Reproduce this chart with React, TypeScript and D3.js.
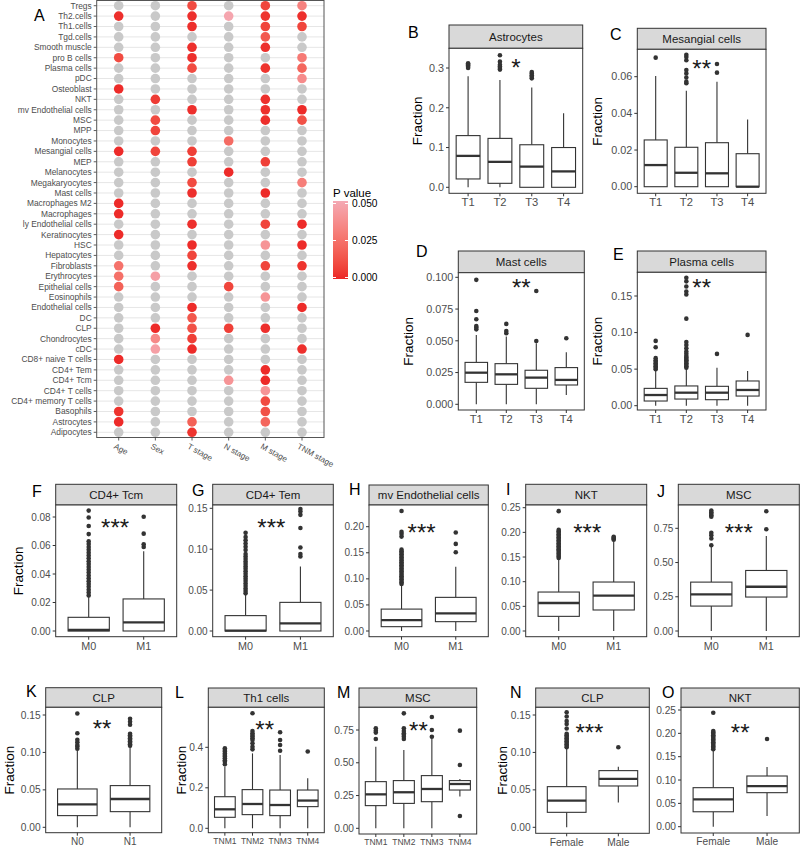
import React from "react";
import * as d3 from "d3";

const FONT = "'Liberation Sans', Arial, Helvetica, sans-serif";
const INK = "#333333";
const AXIS_TEXT = "#4d4d4d";
const _ = null;

// ---------- Panel A data ----------
const cellTypes = [
  "Tregs", "Th2.cells", "Th1.cells", "Tgd.cells", "Smooth muscle", "pro B cells", "Plasma cells", "pDC",
  "Osteoblast", "NKT", "mv Endothelial cells", "MSC", "MPP", "Monocytes", "Mesangial cells", "MEP",
  "Melanocytes", "Megakaryocytes", "Mast cells", "Macrophages M2", "Macrophages", "ly Endothelial cells",
  "Keratinocytes", "HSC", "Hepatocytes", "Fibroblasts", "Erythrocytes", "Epithelial cells", "Eosinophils",
  "Endothelial cells", "DC", "CLP", "Chondrocytes", "cDC", "CD8+ naive T cells", "CD4+ Tem", "CD4+ Tcm",
  "CD4+ T cells", "CD4+ memory T cells", "Basophils", "Astrocytes", "Adipocytes",
];
const clinicalVars = ["Age", "Sex", "T stage", "N stage", "M stage", "TNM stage"];
const pAge = [_, 0.002, _, _, _, 0.01, _, _, 0.001, _, _, _, _, _, 0.001, _, _, _, _, 0.001, 0.001, _, 0.001, _, _, 0.025, 0.024, 0.018, _, _, _, _, _, _, 0.001, _, _, _, _, 0.003, 0.001, _];
const pSex = [_, _, _, _, _, _, _, _, _, 0.005, _, 0.01, 0.008, _, 0.008, _, _, _, _, _, _, _, _, _, _, _, 0.045, _, _, _, _, 0.001, 0.035, 0.045, _, _, _, _, _, _, _, _];
const pT = [0.01, 0.002, 0.002, _, 0.002, 0.002, 0.01, _, _, _, 0.002, _, _, _, 0.006, 0.006, _, 0.01, 0.002, _, _, 0.002, _, 0.001, 0.008, 0.002, _, _, _, 0.001, 0.014, 0.012, 0.006, 0.001, _, _, _, _, _, _, 0.018, 0.003];
const pN = [_, 0.048, _, _, _, _, _, _, _, _, _, _, _, 0.022, _, _, 0.001, _, _, _, _, _, _, _, _, _, _, 0.008, _, _, _, 0.006, _, _, _, _, 0.04, _, _, _, _, _];
const pM = [0.008, 0.003, 0.008, 0.015, 0.002, _, 0.003, _, _, 0.002, 0.002, 0.002, _, _, _, 0.006, _, _, 0.001, _, _, 0.008, _, 0.04, _, 0.008, _, _, 0.04, _, _, 0.002, _, _, _, 0.001, 0.001, 0.04, 0.01, 0.012, 0.02, _];
const pTNM = [0.032, 0.002, 0.008, _, _, 0.028, 0.02, 0.036, _, _, 0.001, 0.012, _, _, _, _, _, 0.03, _, _, _, 0.001, _, 0.001, _, 0.003, _, _, _, 0.001, _, _, _, 0.002, _, _, _, _, _, _, _, _];
const pColumns = [pAge, pSex, pT, pN, pM, pTNM];
const legendTicks = [0, 0.025, 0.05];

// ---------- Boxplot data: [lower whisker, Q1, median, Q3, upper whisker] ----------
const tCats = ["T1", "T2", "T3", "T4"];
const mCats = ["M0", "M1"];
const nCats = ["N0", "N1"];
const tnmCats = ["TNM1", "TNM2", "TNM3", "TNM4"];
const sexCats = ["Female", "Male"];

const astroStats = [[0, 0.021, 0.079, 0.13, 0.279], [0, 0.01, 0.064, 0.123, 0.27], [0, 0, 0.052, 0.107, 0.251], [0, 0, 0.04, 0.1, 0.186]];
const astroOut = [[0.3, 0.303, 0.306, 0.309, 0.312], [0.296, 0.3, 0.304, 0.308, 0.316, 0.332], [0.274, 0.278, 0.282, 0.286, 0.29], []];
const astroTicks = [0, 0.1, 0.2, 0.3];
const astroSig = { x: 2.5, y: 0.315, label: "*" };

const mesStats = [[0, 0, 0.0118, 0.0255, 0.0604], [0, 0, 0.0076, 0.0215, 0.0524], [0, 0, 0.0073, 0.024, 0.0573], [0, 0, 0, 0.018, 0.0367]];
const mesOut = [[0.0704], [0.0564, 0.0573, 0.0596, 0.0618, 0.0636, 0.069, 0.0708, 0.072], [0.0622, 0.0669], []];
const mesTicks = [0, 0.02, 0.04, 0.06];
const mesSig = { x: 2.5, y: 0.0675, label: "**" };

const mastStats = [[0, 0.0173, 0.0249, 0.033, 0.0546], [0, 0.0157, 0.0236, 0.032, 0.0533], [0, 0.0126, 0.021, 0.0268, 0.048], [0.0073, 0.0152, 0.0192, 0.0289, 0.041]];
const mastOut = [[0.059, 0.0605, 0.0617, 0.067, 0.0735, 0.098], [0.056, 0.0577, 0.0633], [0.0499, 0.0892], [0.052]];
const mastTicks = [0, 0.025, 0.05, 0.075, 0.1];
const mastSig = { x: 2.5, y: 0.0963, label: "**" };

const plasmaStats = [[0, 0.0064, 0.0146, 0.0237, 0.0475], [0, 0.0091, 0.0178, 0.027, 0.052], [0, 0.0082, 0.0178, 0.0265, 0.052], [0, 0.0132, 0.0215, 0.0338, 0.0475]];
const plasmaOut = [
  [0.05, 0.052, 0.054, 0.056, 0.058, 0.06, 0.062, 0.065, 0.08, 0.0886],
  [0.052, 0.054, 0.056, 0.058, 0.06, 0.062, 0.064, 0.066, 0.068, 0.071, 0.074, 0.0785, 0.083, 0.087, 0.119, 0.152, 0.156, 0.163, 0.17, 0.175],
  [0.0708],
  [0.0968],
];
const plasmaTicks = [0, 0.05, 0.1, 0.15];
const plasmaSig = { x: 2.5, y: 0.169, label: "**" };

const tcmStats = [[0, 0, 0.0007, 0.0096, 0.024], [0, 0, 0.0061, 0.0225, 0.056]];
const tcmOut = [
  [0.025, 0.027, 0.029, 0.031, 0.033, 0.035, 0.037, 0.039, 0.041, 0.043, 0.045, 0.047, 0.049, 0.051, 0.053, 0.055, 0.057, 0.059, 0.061, 0.063, 0.068, 0.0737, 0.0796, 0.0845],
  [0.059, 0.0608, 0.0683, 0.0802],
];
const tcmTicks = [0, 0.02, 0.04, 0.06, 0.08];
const tcmSig = { x: 1.48, y: 0.0765, label: "***" };

const temStats = [[0, 0, 0.0005, 0.0188, 0.044], [0, 0, 0.0094, 0.035, 0.079]];
const temOut = [
  [0.046, 0.049, 0.052, 0.055, 0.058, 0.061, 0.064, 0.067, 0.07, 0.073, 0.076, 0.079, 0.082, 0.085, 0.088, 0.091, 0.094, 0.099, 0.103, 0.107, 0.111, 0.115, 0.12],
  [0.091, 0.094, 0.102, 0.126, 0.142, 0.146, 0.149],
];
const temTicks = [0, 0.05, 0.1, 0.15];
const temSig = { x: 1.47, y: 0.1335, label: "***" };

const mvStats = [[0, 0.0083, 0.021, 0.042, 0.088], [0, 0.0179, 0.0338, 0.0645, 0.123]];
const mvOut = [
  [0.09, 0.093, 0.096, 0.099, 0.102, 0.105, 0.108, 0.111, 0.114, 0.117, 0.12, 0.123, 0.126, 0.129, 0.132, 0.135, 0.138, 0.141, 0.144, 0.147, 0.15, 0.153, 0.156, 0.181, 0.186, 0.19, 0.23],
  [0.151, 0.167, 0.189],
];
const mvTicks = [0, 0.05, 0.1, 0.15, 0.2];
const mvSig = { x: 1.37, y: 0.199, label: "***" };

const nktMStats = [[0, 0.0297, 0.0568, 0.079, 0.146], [0, 0.0426, 0.0716, 0.0993, 0.182]];
const nktMOut = [
  [0.148, 0.151, 0.154, 0.157, 0.16, 0.163, 0.166, 0.169, 0.172, 0.175, 0.178, 0.181, 0.184, 0.187, 0.19, 0.193, 0.196, 0.199, 0.202, 0.205, 0.243],
  [0.185, 0.187, 0.189, 0.191],
];
const nktMTicks = [0, 0.05, 0.1, 0.15, 0.2, 0.25];
const nktMSig = { x: 1.52, y: 0.211, label: "***" };

const mscMStats = [[0, 0.182, 0.267, 0.357, 0.62], [0, 0.248, 0.323, 0.442, 0.694]];
const mscMOut = [[0.626, 0.675, 0.7, 0.718, 0.835, 0.845, 0.857, 0.868, 0.88], [0.743, 0.874]];
const mscMTicks = [0, 0.25, 0.5, 0.75];
const mscMSig = { x: 1.5, y: 0.757, label: "***" };

const clpNStats = [[0, 0.0156, 0.0307, 0.0512, 0.103], [0, 0.0209, 0.0378, 0.0557, 0.108]];
const clpNOut = [
  [0.105, 0.108, 0.11, 0.1135, 0.117, 0.1256, 0.152],
  [0.109, 0.111, 0.113, 0.115, 0.117, 0.119, 0.121, 0.123, 0.125, 0.137, 0.141, 0.145],
];
const clpNTicks = [0, 0.05, 0.1, 0.15];
const clpNSig = { x: 1.47, y: 0.139, label: "**" };

const th1Stats = [[0, 0.0543, 0.0938, 0.156, 0.305], [0, 0.0675, 0.12, 0.191, 0.37], [0, 0.0625, 0.115, 0.189, 0.362], [0, 0.107, 0.137, 0.189, 0.247]];
const th1Out = [
  [0.316, 0.329, 0.336, 0.346, 0.355, 0.362, 0.37, 0.379, 0.387, 0.395],
  [0.39, 0.403, 0.42, 0.436, 0.445, 0.453, 0.461, 0.469, 0.48, 0.568],
  [0.383, 0.411, 0.436, 0.474],
  [0.379],
];
const th1Ticks = [0, 0.2, 0.4];
const th1Sig = { x: 2.44, y: 0.515, label: "**" };

const mscTnmStats = [[0, 0.173, 0.259, 0.356, 0.623], [0, 0.19, 0.275, 0.364, 0.597], [0, 0.203, 0.3, 0.402, 0.687], [0.242, 0.292, 0.338, 0.364, 0.376]];
const mscTnmOut = [[0.681, 0.73, 0.745, 0.763], [0.681, 0.699, 0.713, 0.725, 0.742, 0.763, 0.877], [0.699, 0.75, 0.849], [0.094, 0.483, 0.745]];
const mscTnmTicks = [0, 0.25, 0.5, 0.75];
const mscTnmSig = { x: 2.52, y: 0.787, label: "**" };

const clpSexStats = [[0, 0.02, 0.0356, 0.0543, 0.1055], [0.033, 0.0552, 0.0646, 0.0757, 0.081]];
const clpSexOut = [
  [0.107, 0.109, 0.111, 0.113, 0.115, 0.117, 0.119, 0.121, 0.123, 0.125, 0.132, 0.138, 0.142, 0.148, 0.1536],
  [0.107],
];
const clpSexTicks = [0, 0.05, 0.1, 0.15];
const clpSexSig = { x: 1.44, y: 0.134, label: "***" };

const nktSexStats = [[0, 0.032, 0.0586, 0.0836, 0.164], [0.0229, 0.0729, 0.0871, 0.1086, 0.128]];
const nktSexOut = [
  [0.166, 0.169, 0.172, 0.175, 0.178, 0.181, 0.184, 0.187, 0.19, 0.193, 0.196, 0.199, 0.202, 0.205, 0.244],
  [0.188],
];
const nktSexTicks = [0, 0.05, 0.1, 0.15, 0.2, 0.25];
const nktSexSig = { x: 1.5, y: 0.214, label: "**" };

// ---------- layout ----------
const panels = [
  { letter: "B", strip: "Astrocytes", cats: tCats, stats: astroStats, out: astroOut, ticks: astroTicks, sig: astroSig, fmt: ".1f",
    x0: 449, x1: 582.7, stripTop: 25, plotTop: 48.3, plotBottom: 193.3, zeroPx: 187.3, refVal: 0.3, refPx: 68, lx: 408, ly: 38, titleX: 417, tf: 10.8, cf: 11.2 },
  { letter: "C", strip: "Mesangial cells", cats: tCats, stats: mesStats, out: mesOut, ticks: mesTicks, sig: mesSig, fmt: ".2f",
    x0: 637.3, x1: 766, stripTop: 28.3, plotTop: 49.3, plotBottom: 193.3, zeroPx: 186.7, refVal: 0.06, refPx: 76.7, lx: 610, ly: 40, titleX: 597, tf: 10.8, cf: 11.2 },
  { letter: "D", strip: "Mast cells", cats: tCats, stats: mastStats, out: mastOut, ticks: mastTicks, sig: mastSig, fmt: ".3f",
    x0: 458.3, x1: 584.3, stripTop: 251, plotTop: 272.7, plotBottom: 410, zeroPx: 404.3, refVal: 0.1, refPx: 277.3, lx: 416, ly: 257, titleX: 408.5, tf: 10.8, cf: 11.2 },
  { letter: "E", strip: "Plasma cells", cats: tCats, stats: plasmaStats, out: plasmaOut, ticks: plasmaTicks, sig: plasmaSig, fmt: ".2f",
    x0: 637.3, x1: 766, stripTop: 251, plotTop: 272.3, plotBottom: 410, zeroPx: 405.7, refVal: 0.15, refPx: 296, lx: 613, ly: 260, titleX: 597, tf: 10.8, cf: 11.2 },
  { letter: "F", strip: "CD4+ Tcm", cats: mCats, stats: tcmStats, out: tcmOut, ticks: tcmTicks, sig: tcmSig, fmt: ".2f",
    x0: 55.7, x1: 176.7, stripTop: 484.3, plotTop: 505, plotBottom: 636.7, zeroPx: 631, refVal: 0.08, refPx: 517, lx: 32, ly: 497, titleX: 18.5, tf: 10, cf: 10.8 },
  { letter: "G", strip: "CD4+ Tem", cats: mCats, stats: temStats, out: temOut, ticks: temTicks, sig: temSig, fmt: ".2f",
    x0: 212.7, x1: 333.3, stripTop: 484.3, plotTop: 505, plotBottom: 636.7, zeroPx: 631, refVal: 0.15, refPx: 508.3, lx: 192, ly: 496, titleX: null, tf: 10, cf: 10.8 },
  { letter: "H", strip: "mv Endothelial cells", cats: mCats, stats: mvStats, out: mvOut, ticks: mvTicks, sig: mvSig, fmt: ".2f",
    x0: 369, x1: 488.3, stripTop: 485, plotTop: 505, plotBottom: 636.7, zeroPx: 631, refVal: 0.2, refPx: 526.7, lx: 349, ly: 495, titleX: null, tf: 10, cf: 10.8 },
  { letter: "I", strip: "NKT", cats: mCats, stats: nktMStats, out: nktMOut, ticks: nktMTicks, sig: nktMSig, fmt: ".2f",
    x0: 525.7, x1: 646.7, stripTop: 484.3, plotTop: 505, plotBottom: 636.7, zeroPx: 631, refVal: 0.25, refPx: 507.7, lx: 506, ly: 495, titleX: null, tf: 10, cf: 10.8 },
  { letter: "J", strip: "MSC", cats: mCats, stats: mscMStats, out: mscMOut, ticks: mscMTicks, sig: mscMSig, fmt: ".2f",
    x0: 678.3, x1: 799.3, stripTop: 484.3, plotTop: 505, plotBottom: 636.7, zeroPx: 631, refVal: 0.75, refPx: 528.3, lx: 657, ly: 497, titleX: null, tf: 10, cf: 10.8 },
  { letter: "K", strip: "CLP", cats: nCats, stats: clpNStats, out: clpNOut, ticks: clpNTicks, sig: clpNSig, fmt: ".2f",
    x0: 45.7, x1: 161.7, stripTop: 687.7, plotTop: 707.3, plotBottom: 832.7, zeroPx: 827.3, refVal: 0.15, refPx: 715, lx: 26, ly: 697, titleX: 9, tf: 10.2, cf: 10 },
  { letter: "L", strip: "Th1 cells", cats: tnmCats, stats: th1Stats, out: th1Out, ticks: th1Ticks, sig: th1Sig, fmt: ".1f",
    x0: 208.3, x1: 324.3, stripTop: 688, plotTop: 707.3, plotBottom: 832.7, zeroPx: 828.3, refVal: 0.4, refPx: 747.3, lx: 175, ly: 698, titleX: 181, tf: 10.2, cf: 8.5 },
  { letter: "M", strip: "MSC", cats: tnmCats, stats: mscTnmStats, out: mscTnmOut, ticks: mscTnmTicks, sig: mscTnmSig, fmt: ".2f",
    x0: 359, x1: 476.7, stripTop: 688, plotTop: 707.3, plotBottom: 834, zeroPx: 828.3, refVal: 0.75, refPx: 730, lx: 337, ly: 698, titleX: null, tf: 10.2, cf: 8.5 },
  { letter: "N", strip: "CLP", cats: sexCats, stats: clpSexStats, out: clpSexOut, ticks: clpSexTicks, sig: clpSexSig, fmt: ".2f",
    x0: 535.7, x1: 649.3, stripTop: 688, plotTop: 707.3, plotBottom: 833.3, zeroPx: 827.3, refVal: 0.15, refPx: 715, lx: 510, ly: 698, titleX: 502, tf: 10.2, cf: 10.2 },
  { letter: "O", strip: "NKT", cats: sexCats, stats: nktSexStats, out: nktSexOut, ticks: nktSexTicks, sig: nktSexSig, fmt: ".2f",
    x0: 681, x1: 799.3, stripTop: 688, plotTop: 707.3, plotBottom: 833, zeroPx: 826.7, refVal: 0.25, refPx: 710, lx: 662, ly: 698, titleX: null, tf: 10.2, cf: 10.2 },
];

function BoxPanel({ p }: { p: any }) {
  const x = d3.scalePoint<string>().domain(p.cats).range([p.x0, p.x1]).padding(0.6);
  const step = x.step();
  const y = d3.scaleLinear().domain([0, p.refVal]).range([p.zeroPx, p.refPx]);
  const bw = step * 0.75;
  const fmt = d3.format(p.fmt);
  const sigX = (x(p.cats[0]) as number) + (p.sig.x - 1) * step;
  const starSize = 24;
  return (
    <g>
      <text x={p.lx} y={p.ly} fontSize={16} fill="#000">{p.letter}</text>
      <rect x={p.x0} y={p.stripTop} width={p.x1 - p.x0} height={p.plotTop - p.stripTop} fill="#d9d9d9" stroke={INK} strokeWidth={1} />
      <text x={(p.x0 + p.x1) / 2} y={(p.stripTop + p.plotTop) / 2} dy="0.36em" textAnchor="middle" fontSize={11.5} fill="#1a1a1a">{p.strip}</text>
      <rect x={p.x0} y={p.plotTop} width={p.x1 - p.x0} height={p.plotBottom - p.plotTop} fill="#fff" stroke={INK} strokeWidth={1} />
      {p.ticks.map((t: number) => (
        <g key={"yt" + t}>
          <line x1={p.x0 - 3} x2={p.x0} y1={y(t)} y2={y(t)} stroke={INK} strokeWidth={1} />
          <text x={p.x0 - 5} y={y(t)} dy="0.35em" textAnchor="end" fontSize={p.tf} fill={AXIS_TEXT}>{fmt(t)}</text>
        </g>
      ))}
      {p.cats.map((c: string) => (
        <g key={"xt" + c}>
          <line x1={x(c)} x2={x(c)} y1={p.plotBottom} y2={p.plotBottom + 3} stroke={INK} strokeWidth={1} />
          <text x={x(c)} y={p.plotBottom + 4 + p.cf * 0.82} textAnchor="middle" fontSize={p.cf} fill={AXIS_TEXT}>{c}</text>
        </g>
      ))}
      {p.titleX !== null && (
        <text transform={`translate(${p.titleX},${(p.plotTop + p.plotBottom) / 2}) rotate(-90)`} dy="0.35em" textAnchor="middle" fontSize={13.5} fill="#000">Fraction</text>
      )}
      {p.cats.map((c: string, i: number) => {
        const [lo, q1, med, q3, hi] = p.stats[i];
        const cx = x(c) as number;
        return (
          <g key={"b" + c}>
            <line x1={cx} x2={cx} y1={y(q3)} y2={y(hi)} stroke={INK} strokeWidth={1.1} />
            <line x1={cx} x2={cx} y1={y(q1)} y2={y(lo)} stroke={INK} strokeWidth={1.1} />
            <rect x={cx - bw / 2} y={y(q3)} width={bw} height={Math.max(0, y(q1) - y(q3))} fill="#fff" stroke={INK} strokeWidth={1.1} />
            <line x1={cx - bw / 2} x2={cx + bw / 2} y1={y(med)} y2={y(med)} stroke={INK} strokeWidth={2.3} />
            {p.out[i].map((v: number, k: number) => (
              <circle key={k} cx={cx} cy={y(v)} r={2.3} fill={INK} />
            ))}
          </g>
        );
      })}
      <text x={sigX} y={y(p.sig.y) + starSize * 0.58} textAnchor="middle" fontSize={starSize} fill="#1a1a1a">{p.sig.label}</text>
    </g>
  );
}

function HeatPanel() {
  const fx0 = 96.7, fx1 = 324, fy0 = 0.5, fy1 = 437.5;
  const xs = d3.scalePoint<string>().domain(clinicalVars).range([fx0, fx1]).padding(0.6);
  const ys = d3.scalePoint<string>().domain(cellTypes).range([fy0, fy1]).padding(0.5);
  const color = d3.scaleLinear<string>().domain([0, 0.05]).range(["#ec2626", "#f4a9b4"]).interpolate(d3.interpolateLab);
  const barTop = 201, barBot = 279;
  const ly = d3.scaleLinear().domain([0, 0.05]).range([277.5, 203.5]);
  const stops = d3.range(0, 1.0001, 0.1);
  return (
    <g>
      <text x={34} y={21} fontSize={16} fill="#000">A</text>
      <rect x={fx0} y={fy0} width={fx1 - fx0} height={fy1 - fy0} fill="#fff" />
      {cellTypes.map((c) => (
        <line key={"g" + c} x1={fx0} x2={fx1} y1={ys(c)} y2={ys(c)} stroke="#e6e6e6" strokeWidth={1} />
      ))}
      {cellTypes.map((c, i) => (
        <g key={"r" + c}>
          <line x1={fx0 - 3} x2={fx0} y1={ys(c)} y2={ys(c)} stroke={INK} strokeWidth={0.8} />
          <text x={fx0 - 5} y={ys(c)} dy="0.35em" textAnchor="end" fontSize={8.4} fill={AXIS_TEXT}>{c}</text>
          {clinicalVars.map((v, j) => {
            const pv = pColumns[j][i];
            return <circle key={v} cx={xs(v)} cy={ys(c)} r={4.8} fill={pv === null ? "#c9c9c9" : color(pv)} />;
          })}
        </g>
      ))}
      <rect x={fx0} y={fy0} width={fx1 - fx0} height={fy1 - fy0} fill="none" stroke="#555" strokeWidth={1} />
      {clinicalVars.map((v) => (
        <g key={"c" + v}>
          <line x1={xs(v)} x2={xs(v)} y1={fy1} y2={fy1 + 3} stroke={INK} strokeWidth={0.8} />
          <text transform={`translate(${(xs(v) as number) - 4},${fy1 + 8}) rotate(29)`} fontSize={8.2} fill={AXIS_TEXT} dy="0.35em">{v}</text>
        </g>
      ))}
      <defs>
        <linearGradient id="pgrad" x1="0" y1="1" x2="0" y2="0">
          {stops.map((s) => (
            <stop key={s} offset={s} stopColor={color(s * 0.05)} />
          ))}
        </linearGradient>
      </defs>
      <text x={333} y={197} fontSize={11.5} fill="#000">P value</text>
      <rect x={333} y={barTop} width={15} height={barBot - barTop} fill="url(#pgrad)" />
      {legendTicks.map((t) => (
        <g key={"lt" + t}>
          <line x1={333} x2={336} y1={ly(t)} y2={ly(t)} stroke="#fff" strokeWidth={1} />
          <line x1={345} x2={348} y1={ly(t)} y2={ly(t)} stroke="#fff" strokeWidth={1} />
          <text x={352} y={ly(t)} dy="0.35em" fontSize={10.2} fill="#000">{d3.format(".3f")(t)}</text>
        </g>
      ))}
    </g>
  );
}

export default function App() {
  return (
    <svg width={800} height={851} viewBox="0 0 800 851" style={{ position: "absolute", left: 0, top: 0, fontFamily: FONT, background: "#fff" }}>
      <rect x={0} y={0} width={800} height={851} fill="#fff" />
      <HeatPanel />
      {panels.map((p) => (
        <BoxPanel key={p.letter} p={p} />
      ))}
    </svg>
  );
}
